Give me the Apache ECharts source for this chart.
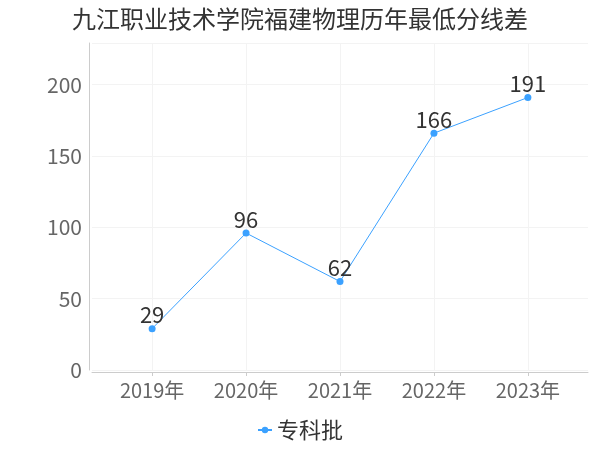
<!DOCTYPE html>
<html><head><meta charset="utf-8">
<script src="https://cdn.jsdelivr.net/npm/echarts@6/dist/echarts.min.js"></script>
<style>html,body{margin:0;padding:0;background:#fff}#c{width:600px;height:450px}</style>
</head><body><div id="c"></div>
<script>
const title = '九江职业技术学院福建物理历年最低分线差';
const categories = ['2019年','2020年','2021年','2022年','2023年'];
const seriesName = '专科批';
const values = [29, 96, 62, 166, 191];
const yTicks = [0, 50, 100, 150, 200];

const font = "'Noto Sans CJK SC','Noto Sans',sans-serif";
const idx = categories.map((_, i) => i);
const chart = echarts.init(document.getElementById('c'));
chart.setOption({
  animation: false,
  title: {text: title, left: 'center', top: 2, textStyle: {fontFamily: font, fontSize: 24, fontWeight: 'normal', color: '#333'}},
  legend: {bottom: 4, left: 'center', itemWidth: 14, itemHeight: 8, itemGap: 6, textStyle: {fontFamily: font, fontSize: 22, color: '#333'}, data: [seriesName]},
  grid: {left: 92, right: 12, top: 43, bottom: 80},
  xAxis: {
    type: 'value', min: -0.64, max: 4.64,
    offset: 2,
    axisLine: {show: true, onZero: false, lineStyle: {color: '#ccc'}},
    axisTick: {show: true, customValues: idx, length: 4, lineStyle: {color: '#ccc'}},
    axisLabel: {customValues: idx, formatter: v => categories[Math.round(v)], fontFamily: font, fontSize: 20, color: '#666', margin: 8},
    splitLine: {show: true, lineStyle: {color: '#f3f3f3'}}
  },
  yAxis: {
    type: 'value', min: 0, max: 229.2, offset: 3,
    axisLine: {show: true, onZero: false, lineStyle: {color: '#ccc'}},
    axisTick: {show: false},
    axisLabel: {customValues: yTicks, fontFamily: font, fontSize: 21, color: '#666', margin: 7},
    splitLine: {show: true, lineStyle: {color: '#f3f3f3'}}
  },
  series: [{
    name: seriesName, type: 'line',
    data: values.map((v, i) => [i, v]),
    symbol: 'circle', symbolSize: 7,
    itemStyle: {color: '#3ba1ff'},
    lineStyle: {color: '#3ba1ff', width: 1},
    label: {show: true, position: 'top', distance: 0, offset: [0, 1], fontFamily: font, fontSize: 22, color: '#333'}
  }]
});
</script></body></html>
